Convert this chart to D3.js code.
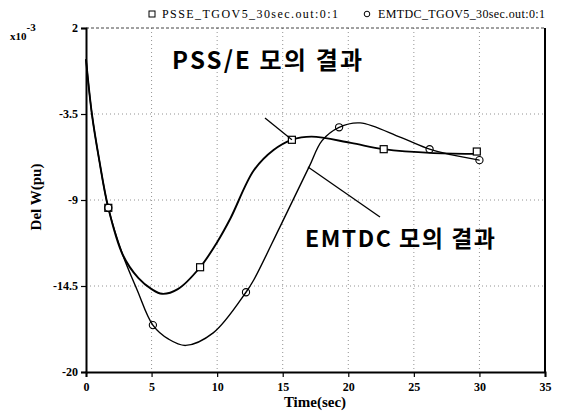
<!DOCTYPE html>
<html>
<head>
<meta charset="utf-8">
<script src="https://cdn.jsdelivr.net/npm/d3@7"></script>
<style>
  body { margin: 0; background: #fff; }
  text { fill: #000; }
</style>
</head>
<body>
<svg id="chart" width="561" height="413"></svg>
<script>
// values (Del W in x10^-3 pu, time in sec)
const psseTime = [0, 0.45, 1.0, 1.7, 2.8, 4.0, 5.0, 5.8, 7.0, 8.7, 10.0, 11.0, 12.8, 14.3, 15.7, 17.2, 20.2, 22.7, 26.5, 30];
const psseVal = [0, -3.5, -6.4, -9.5, -12.5, -14.0, -14.7, -15.0, -14.7, -13.3, -11.7, -10.2, -7.1, -5.8, -5.15, -4.95, -5.35, -5.75, -6.0, -6.05];

const emtdcTime = [0, 0.45, 1.0, 1.7, 2.8, 3.9, 5.1, 6.3, 7.6, 9.7, 12.2, 12.8, 14.8, 17.0, 18.0, 19.3, 20.9, 24.0, 26.2, 27.8, 30];
const emtdcVal = [0, -3.5, -6.4, -9.5, -12.5, -14.75, -17.0, -17.9, -18.3, -17.5, -14.9, -14.1, -10.7, -6.9, -5.2, -4.35, -4.07, -5.0, -5.75, -6.1, -6.45];

const psseMarkTime = [1.7, 8.7, 15.7, 22.7, 29.8];
const psseMarkVal = [-9.5, -13.3, -5.15, -5.75, -5.9];
const emtdcMarkTime = [1.7, 5.1, 12.2, 19.3, 26.2, 30];
const emtdcMarkVal = [-9.5, -17.0, -14.9, -4.35, -5.75, -6.45];

const xTicks = [0, 5, 10, 15, 20, 25, 30, 35];
const yTicks = [2, -3.5, -9, -14.5, -20];

const legendNames = ["PSSE_TGOV5_30sec.out:0:1", "EMTDC_TGOV5_30sec.out:0:1"];
const noteTexts = ["PSS/E 모의 결과", "EMTDC 모의 결과"];

const svg = d3.select("#chart");
const serif = "'Liberation Serif', 'Times New Roman', serif";
const korean = "'Noto Sans CJK KR', 'Noto Sans', sans-serif";

const x = d3.scaleLinear().domain([0, 35]).range([86, 545]);
const y = d3.scaleLinear().domain([-20, 2]).range([372, 28]);

// grid
svg.append("g")
  .selectAll("line")
  .data(xTicks.slice(1, -1))
  .enter()
  .append("line")
  .attr("x1", (d) => x(d)).attr("x2", (d) => x(d))
  .attr("y1", y(2)).attr("y2", y(-20))
  .attr("stroke", "#777")
  .attr("stroke-width", 0.8)
  .attr("stroke-dasharray", "1,3");

svg.append("g")
  .selectAll("line")
  .data(yTicks.slice(1, -1))
  .enter()
  .append("line")
  .attr("x1", x(0)).attr("x2", x(35))
  .attr("y1", (d) => y(d)).attr("y2", (d) => y(d))
  .attr("stroke", "#777")
  .attr("stroke-width", 0.8)
  .attr("stroke-dasharray", "1,3");

// frame: top dotted, right solid
svg.append("line")
  .attr("x1", x(0)).attr("x2", x(35))
  .attr("y1", y(2)).attr("y2", y(2))
  .attr("stroke", "#444")
  .attr("stroke-dasharray", "3,2");
svg.append("line")
  .attr("x1", x(35)).attr("x2", x(35))
  .attr("y1", y(2)).attr("y2", y(-20))
  .attr("stroke", "#000")
  .attr("stroke-width", 2);

// axes
const xAxis = svg.append("g")
  .attr("transform", `translate(0,${y(-20)})`)
  .call(d3.axisBottom(x).tickValues(xTicks).tickSize(5).tickFormat(d3.format("d")));
const yAxis = svg.append("g")
  .attr("transform", `translate(${x(0)},0)`)
  .call(d3.axisLeft(y).tickValues(yTicks).tickSize(5).tickFormat((d) => d));

[xAxis, yAxis].forEach((g) => {
  g.select(".domain").attr("stroke", "#000").attr("stroke-width", 2);
  g.selectAll(".tick line").attr("stroke", "#000").attr("stroke-width", 1.2);
  g.selectAll(".tick text")
    .attr("font-family", serif)
    .attr("font-size", 12)
    .attr("font-weight", "bold")
    .attr("fill", "#000");
});
xAxis.selectAll(".tick text").attr("dy", "0.95em");
yAxis.selectAll(".tick text").attr("x", -8);

// curves
const line = d3.line()
  .x((d) => x(d[0]))
  .y((d) => y(d[1]))
  .curve(d3.curveCatmullRom.alpha(0.5));

svg.append("path")
  .datum(emtdcTime.map((t, i) => [t, emtdcVal[i]]))
  .attr("d", line)
  .attr("fill", "none")
  .attr("stroke", "#000")
  .attr("stroke-width", 1.4);

svg.append("path")
  .datum(psseTime.map((t, i) => [t, psseVal[i]]))
  .attr("d", line)
  .attr("fill", "none")
  .attr("stroke", "#000")
  .attr("stroke-width", 1.9);

// markers
svg.append("g")
  .selectAll("rect")
  .data(psseMarkTime.map((t, i) => [t, psseMarkVal[i]]))
  .enter()
  .append("rect")
  .attr("x", (d) => x(d[0]) - 3.5)
  .attr("y", (d) => y(d[1]) - 3.5)
  .attr("width", 7)
  .attr("height", 7)
  .attr("fill", "#fff")
  .attr("stroke", "#000")
  .attr("stroke-width", 1.2);

svg.append("g")
  .selectAll("circle")
  .data(emtdcMarkTime.map((t, i) => [t, emtdcMarkVal[i]]))
  .enter()
  .append("circle")
  .attr("cx", (d) => x(d[0]))
  .attr("cy", (d) => y(d[1]))
  .attr("r", 3.6)
  .attr("fill", "none")
  .attr("stroke", "#000")
  .attr("stroke-width", 1.1);

// legend on top
const legend = svg.append("g").attr("font-family", serif).attr("font-size", 12);
legend.append("rect")
  .attr("x", 149).attr("y", 11).attr("width", 6).attr("height", 6)
  .attr("fill", "#fff").attr("stroke", "#000");
legend.append("text")
  .attr("x", 162).attr("y", 18)
  .attr("textLength", 176)
  .text(legendNames[0]);
legend.append("circle")
  .attr("cx", 367).attr("cy", 14).attr("r", 2.8)
  .attr("fill", "none").attr("stroke", "#000");
legend.append("text")
  .attr("x", 378).attr("y", 18)
  .attr("textLength", 167)
  .text(legendNames[1]);

// axis titles
svg.append("text")
  .attr("x", 315).attr("y", 407)
  .attr("text-anchor", "middle")
  .attr("font-family", serif)
  .attr("font-size", 15)
  .attr("font-weight", "bold")
  .text("Time(sec)");

svg.append("text")
  .attr("transform", "translate(41,197) rotate(-90)")
  .attr("text-anchor", "middle")
  .attr("font-family", serif)
  .attr("font-size", 15)
  .attr("font-weight", "bold")
  .text("Del W(pu)");

const expo = svg.append("text")
  .attr("x", 10).attr("y", 40)
  .attr("font-family", serif)
  .attr("font-size", 11)
  .attr("font-weight", "bold");
expo.append("tspan").text("x10");
expo.append("tspan").attr("dy", -9).attr("font-size", 11).text("-3");

// annotations
svg.append("text")
  .attr("x", 172).attr("y", 69)
  .attr("font-family", korean)
  .attr("font-size", 24)
  .attr("font-weight", "bold")
  .attr("textLength", 190)
  .text(noteTexts[0]);
svg.append("line")
  .attr("x1", 265).attr("y1", 118)
  .attr("x2", x(psseMarkTime[2])).attr("y2", y(psseMarkVal[2]))
  .attr("stroke", "#000").attr("stroke-width", 1.3);

svg.append("text")
  .attr("x", 305).attr("y", 247)
  .attr("font-family", korean)
  .attr("font-size", 23)
  .attr("font-weight", "bold")
  .attr("textLength", 190)
  .text(noteTexts[1]);
svg.append("line")
  .attr("x1", 308).attr("y1", 167)
  .attr("x2", 380).attr("y2", 217)
  .attr("stroke", "#000").attr("stroke-width", 1.3);
</script>
</body>
</html>
